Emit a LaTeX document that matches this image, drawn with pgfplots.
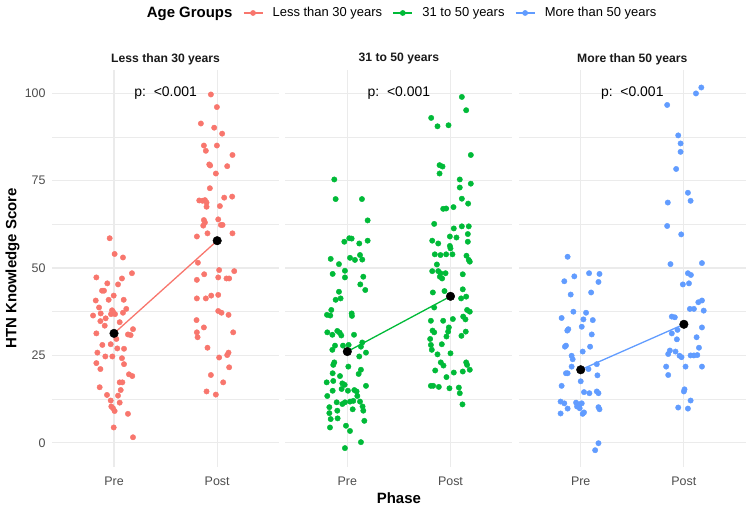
\documentclass[border=0pt]{standalone}
\usepackage{pgfplots}
\pgfplotsset{compat=1.18}
\usepackage{fontspec}
\setmainfont{Liberation Sans}

\definecolor{grpA}{HTML}{F8766D}
\definecolor{grpB}{HTML}{00BA38}
\definecolor{grpC}{HTML}{619CFF}
\definecolor{gridcol}{HTML}{EBEBEB}
\definecolor{tickgray}{HTML}{4D4D4D}

\newcommand\legfont{\fontsize{13}{15}\selectfont}

\pgfplotsset{
  every axis title shift=0pt,
  facet/.style={
    scale only axis, width=227bp, height=397bp,
    xmin=0.4, xmax=2.6, ymin=-6.9, ymax=106.6,
    xtick={1,2}, xticklabels={Pre,Post},
    ytick={0,25,50,75,100}, minor ytick={12.5,37.5,62.5,87.5},
    grid=both,
    major grid style={gridcol, line width=1.1bp},
    minor grid style={gridcol, line width=0.55bp},
    axis line style={draw=none},
    major tick length=0pt, minor tick length=0pt,
    /pgf/number format/assume math mode=true,
    tick label style={font=\fontsize{12.5}{14}\selectfont, text=tickgray},
    xticklabel style={yshift=-6bp},
    yticklabel style={xshift=-3bp},
    title style={at={(axis description cs:0.5,1.0277)}, anchor=center,
      font=\bfseries\fontsize{12.2}{14}\selectfont, text=black!90},
    clip=false,
  },
  pts/.style={only marks, mark=*, mark size=2.7bp, color=#1},
  meanline/.style={#1, line width=1.3bp, no marks},
  meanpt/.style={only marks, mark=*, mark size=4.3bp, color=black},
}

% jittered individual scores (x: 1 = Pre, 2 = Post)
\pgfplotstableread{
x y
0.958 58.5
1.006 54.0
1.087 53.0
0.829 47.3
1.174 48.5
1.077 47.0
0.935 45.6
1.039 45.3
0.884 43.5
0.903 43.5
0.997 42.1
0.823 40.7
0.948 40.9
1.094 40.9
0.855 38.7
0.981 37.9
1.119 38.3
0.871 37.0
0.990 37.5
1.010 36.8
1.087 37.2
0.797 36.4
0.919 35.6
0.868 34.8
1.055 34.5
0.910 33.5
0.829 31.3
1.184 32.5
1.135 31.0
1.161 30.8
0.887 28.0
0.968 28.2
1.023 29.7
0.839 25.8
1.032 27.0
1.097 26.9
0.916 24.7
0.984 24.7
1.077 24.2
0.829 22.8
1.097 22.5
0.868 21.1
1.145 19.6
1.177 19.1
1.055 17.3
1.081 17.3
0.861 15.9
1.065 15.1
0.932 13.7
1.039 13.5
0.968 12.1
1.055 11.5
0.974 10.4
0.990 9.9
1.006 9.1
1.135 8.3
0.997 4.4
1.184 1.6
0.971 36.8
1.939 99.6
1.997 96.0
1.842 91.3
1.971 90.1
2.048 88.4
1.871 85.0
1.997 85.0
1.890 83.5
2.148 82.3
1.923 79.6
1.932 79.3
2.097 79.1
1.987 77.0
1.929 72.8
1.826 69.3
1.858 69.2
1.881 69.4
1.897 68.7
2.068 70.1
2.145 70.4
2.026 67.7
1.897 67.5
1.871 63.7
2.010 63.9
1.881 63.0
1.865 62.1
2.036 62.3
2.052 62.3
1.803 59.0
1.906 59.9
2.148 59.9
1.813 51.5
2.019 49.4
2.165 49.1
1.874 48.2
1.803 46.6
2.010 47.3
2.090 47.0
2.116 47.0
1.803 41.3
1.890 41.3
1.942 42.1
2.010 42.3
2.010 37.7
2.042 37.2
2.110 36.6
1.800 35.1
1.871 33.0
1.803 31.6
1.810 30.2
2.155 31.6
1.906 27.2
2.019 24.4
2.097 25.1
2.110 25.8
2.116 21.6
1.939 19.4
2.058 17.3
1.897 14.7
1.987 13.8
}\groupA

\pgfplotstableread{
x y
0.874 75.3
0.887 69.7
1.142 69.7
1.197 63.6
0.971 57.5
1.019 58.5
1.042 58.4
1.116 57.0
1.197 57.8
0.839 52.6
0.919 51.1
1.026 52.9
1.074 52.3
1.123 53.7
1.145 52.4
0.977 49.2
0.858 48.3
0.977 47.3
1.155 47.5
1.126 45.3
1.174 43.7
0.919 43.2
0.887 40.9
0.935 41.3
0.845 38.0
0.803 36.6
0.835 36.4
1.042 37.0
1.045 36.3
0.806 31.6
0.855 30.9
0.903 32.0
0.926 31.5
0.942 30.7
1.065 30.9
0.881 27.8
0.958 27.8
1.013 28.0
0.855 26.6
1.145 28.7
1.132 27.5
1.181 25.8
1.116 24.7
0.874 23.0
0.864 22.3
1.010 21.8
0.858 19.9
0.800 17.3
0.864 17.7
0.929 19.1
1.132 20.9
1.110 19.7
0.952 17.0
0.974 16.6
1.181 16.3
0.945 15.4
1.006 14.9
1.068 15.1
0.806 13.4
0.858 14.9
1.090 14.7
1.097 13.4
0.897 11.6
0.952 11.1
0.977 11.6
1.026 11.8
1.058 12.0
1.123 11.8
0.826 10.2
1.148 10.4
1.052 9.6
0.826 8.5
0.903 9.2
1.155 9.2
0.839 6.8
0.906 7.0
1.165 6.3
0.832 4.4
0.987 4.9
1.026 3.4
1.132 0.2
0.977 -1.5
2.110 98.9
2.152 95.1
1.813 92.9
1.874 90.5
1.981 90.8
2.197 82.3
1.894 79.4
1.923 79.0
1.894 77.0
2.090 75.3
2.197 74.1
2.090 73.0
2.110 69.8
2.171 68.4
1.929 66.9
1.958 67.0
2.029 67.4
1.842 62.6
2.032 61.3
2.110 61.9
2.177 61.9
2.168 59.7
1.994 59.0
2.058 58.7
1.823 57.8
1.881 57.0
2.168 57.5
1.994 56.3
2.000 55.6
1.848 53.9
1.903 53.7
1.958 53.9
2.019 53.9
2.155 53.5
2.177 52.3
2.187 51.8
1.868 51.0
1.823 49.1
1.881 49.1
1.903 48.5
1.952 48.5
2.119 48.2
1.897 47.5
1.919 47.0
1.829 43.0
1.942 43.4
2.119 43.9
2.103 41.3
2.152 41.8
1.842 38.7
2.161 38.0
2.187 37.5
2.123 36.1
2.145 35.3
1.810 34.9
1.929 34.9
2.023 35.4
1.984 33.0
1.826 32.1
1.842 31.6
1.977 31.8
2.148 31.8
1.961 30.4
2.106 30.6
1.803 29.7
1.810 28.0
1.916 28.2
1.819 26.6
1.874 25.3
2.000 25.6
1.906 23.0
1.932 22.1
2.152 23.0
2.161 22.3
2.187 20.9
1.852 20.7
2.032 20.1
2.119 20.4
1.961 18.8
1.810 16.3
1.832 16.3
1.887 16.0
1.990 15.6
2.081 15.8
2.090 14.2
2.116 11.0
}\groupB

\pgfplotstableread{
x y
0.873 53.2
0.841 46.2
0.938 47.6
1.081 48.5
1.182 48.3
1.172 46.0
0.903 42.4
1.101 43.0
0.929 37.5
1.052 37.2
0.815 35.7
1.026 35.3
1.117 35.1
1.010 33.2
0.880 32.5
0.870 32.1
1.107 31.0
0.857 27.8
0.847 27.5
1.091 27.5
0.912 24.9
0.922 23.9
1.019 26.1
0.912 21.8
1.156 22.5
0.857 19.9
0.873 19.9
1.075 21.1
1.162 19.3
1.000 17.6
0.815 16.3
1.032 14.5
1.084 14.2
1.156 14.7
1.172 14.2
0.805 11.8
0.841 11.3
0.955 11.5
0.987 11.0
1.010 11.3
0.964 10.4
0.990 9.9
0.873 9.8
1.172 10.2
1.182 9.6
1.032 8.7
1.019 8.3
0.805 8.4
1.172 -0.1
1.140 -2.1
2.169 101.6
2.117 99.9
1.838 96.6
1.945 87.9
1.968 85.6
1.968 83.2
1.925 78.3
2.039 71.5
2.065 69.2
1.844 68.7
1.838 62.0
1.974 59.6
1.870 51.1
2.175 51.4
2.039 48.5
2.068 48.0
1.990 45.3
2.049 45.6
2.140 40.2
2.175 40.7
2.058 38.3
2.097 38.3
2.192 37.8
1.883 36.1
1.912 35.9
1.883 31.3
1.938 32.3
1.932 29.6
2.175 33.0
2.123 30.2
2.146 27.2
1.864 26.4
1.919 26.1
1.848 25.4
1.958 24.9
1.977 24.5
2.065 25.0
2.097 25.0
2.130 25.1
1.828 21.8
2.016 21.8
2.175 21.8
1.848 19.4
2.006 15.3
2.000 14.7
2.065 12.1
1.945 10.1
2.039 9.8
}\groupC

\begin{document}
\begin{tikzpicture}
\useasboundingbox (0,0) rectangle (751bp,508bp);

% Panel 1: less than 30 years
\begin{axis}[facet, at={(52.1bp,41bp)}, anchor=south west,
  title={Less than 30 years},
  ylabel={HTN Knowledge Score},
  ylabel style={at={(axis description cs:-0.1744,0.5)}, anchor=center,
    font=\bfseries\fontsize{15}{17}\selectfont},
]
\addplot[pts=grpA] table[x=x, y=y] {\groupA};
\addplot[meanline=grpA] coordinates {(1,31.3) (2,57.8)};
\addplot[meanpt] coordinates {(1,31.3) (2,57.8)};
\node[font=\fontsize{14}{16}\selectfont] at (axis cs:1.5,100) {p:\ \ <0.001};
\end{axis}

% Panel 2: 31 to 50 years (carries the legend and the x label)
\begin{axis}[facet, at={(285.4bp,41bp)}, anchor=south west,
  title={31 to 50 years},
  yticklabels={},
  xlabel={Phase},
  xlabel style={at={(axis description cs:0.5,-0.0781)}, anchor=center,
    font=\bfseries\fontsize{15}{17}\selectfont},
  legend columns=-1,
  legend style={at={(axis description cs:-0.653,1.1436)}, anchor=west,
    draw=none, fill=none, inner sep=0pt,
    nodes={inner sep=0pt},
    /tikz/every odd column/.append style={column sep=9.5bp},
    /tikz/every even column/.append style={column sep=10.5bp}},
  legend image code/.code={\draw[mark repeat=2,mark phase=2,#1]
    plot coordinates {(0bp,0bp) (9.5bp,0bp) (19bp,0bp)};},
]
\addlegendimage{empty legend}
\addlegendentry{\bfseries\fontsize{15}{17}\selectfont Age Groups}
\addlegendimage{grpA, line width=1.3bp, mark=*, mark size=2.2bp}
\addlegendentry{\legfont Less than 30 years}
\addlegendimage{grpB, line width=1.3bp, mark=*, mark size=2.2bp}
\addlegendentry{\legfont 31 to 50 years}
\addlegendimage{grpC, line width=1.3bp, mark=*, mark size=2.2bp}
\addlegendentry{\legfont More than 50 years}
\addplot[pts=grpB, forget plot] table[x=x, y=y] {\groupB};
\addplot[meanline=grpB, forget plot] coordinates {(1,26.1) (2,41.9)};
\addplot[meanpt, forget plot] coordinates {(1,26.1) (2,41.9)};
\node[font=\fontsize{14}{16}\selectfont] at (axis cs:1.5,100) {p:\ \ <0.001};
\end{axis}

% Panel 3: more than 50 years
\begin{axis}[facet, at={(518.8bp,41bp)}, anchor=south west,
  title={More than 50 years},
  yticklabels={},
]
\addplot[pts=grpC] table[x=x, y=y] {\groupC};
\addplot[meanline=grpC] coordinates {(1,20.9) (2,33.9)};
\addplot[meanpt] coordinates {(1,20.9) (2,33.9)};
\node[font=\fontsize{14}{16}\selectfont] at (axis cs:1.5,100) {p:\ \ <0.001};
\end{axis}
\end{tikzpicture}
\end{document}
